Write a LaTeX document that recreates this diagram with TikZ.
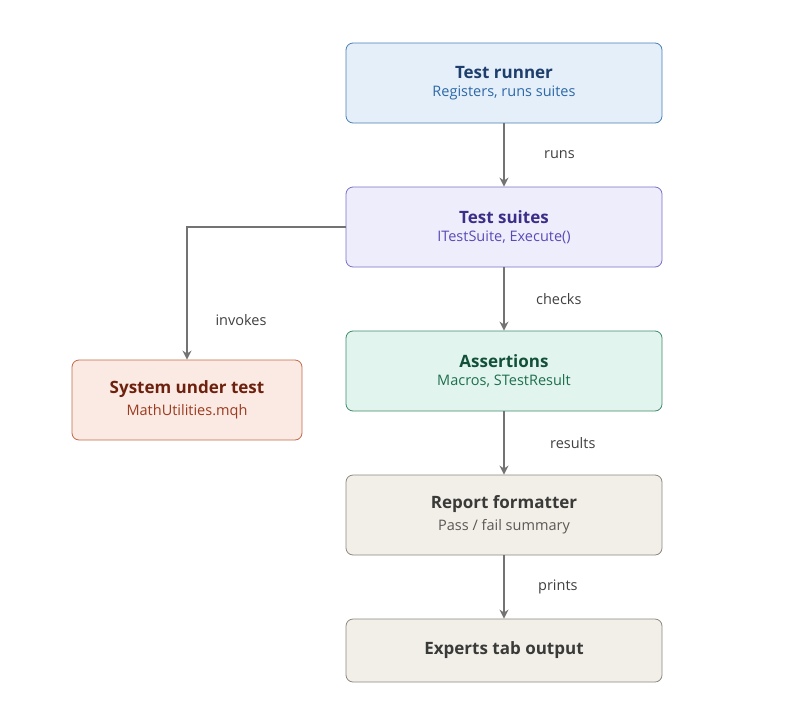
\documentclass[tikz,border=0pt]{standalone}
\usepackage{fontspec}
\setmainfont{Open Sans}
\usetikzlibrary{arrows.meta,positioning}
\definecolor{runfill}{HTML}{E4EFFA}\definecolor{rundraw}{HTML}{4A7FB5}
\definecolor{runtitle}{HTML}{1E3F6C}\definecolor{runsub}{HTML}{2E68A6}
\definecolor{suifill}{HTML}{EEEDFC}\definecolor{suidraw}{HTML}{7A6FC6}
\definecolor{suititle}{HTML}{3A2E88}\definecolor{suisub}{HTML}{5A4AB6}
\definecolor{asfill}{HTML}{E1F4ED}\definecolor{asdraw}{HTML}{3E8B69}
\definecolor{astitle}{HTML}{12503A}\definecolor{assub}{HTML}{1E6F4F}
\definecolor{sysfill}{HTML}{FBEAE3}\definecolor{sysdraw}{HTML}{C2694B}
\definecolor{systitle}{HTML}{6E200E}\definecolor{syssub}{HTML}{9B3B20}
\definecolor{repfill}{HTML}{F2EFE9}\definecolor{repdraw}{HTML}{8C8880}
\definecolor{reptitle}{HTML}{3A3A38}\definecolor{repsub}{HTML}{5A5855}
\newcommand{\boxttl}{\bfseries\fontsize{17}{20}\selectfont}
\newcommand{\boxsub}{\fontsize{14.5}{17}\selectfont}
\tikzset{
  box/.style={draw, rounded corners=7pt, line width=0.8pt, align=center,
    minimum width=316pt, minimum height=80pt, inner sep=0pt},
  flow/.style={draw=black!55, line width=1.6pt, -{Stealth[length=9pt,width=9pt]}},
  lbl/.style={font=\fontsize{14.5}{17}\selectfont, text=black!75, anchor=west}
}
\begin{document}
\begin{tikzpicture}[x=1pt,y=-1pt]
  \useasboundingbox (0,0) rectangle (789,720);
  % Boxes
  \node[box, fill=runfill, draw=rundraw] (runner) at (504,83)
    {{\color{runtitle}\boxttl Test runner}\\[6pt]{\color{runsub}\boxsub Registers, runs suites}};
  \node[box, fill=suifill, draw=suidraw] (suites) at (504,227)
    {{\color{suititle}\boxttl Test suites}\\[6pt]{\color{suisub}\boxsub ITestSuite, Execute()}};
  \node[box, fill=asfill, draw=asdraw] (assert) at (504,371)
    {{\color{astitle}\boxttl Assertions}\\[6pt]{\color{assub}\boxsub Macros, STestResult}};
  \node[box, fill=repfill, draw=repdraw] (report) at (504,515)
    {{\color{reptitle}\boxttl Report formatter}\\[6pt]{\color{repsub}\boxsub Pass / fail summary}};
  \node[box, fill=repfill, draw=repdraw, minimum height=63pt] (experts) at (504,650.5)
    {{\color{reptitle}\boxttl Experts tab output}};
  \node[box, fill=sysfill, draw=sysdraw, minimum width=230pt] (sut) at (187,400)
    {{\color{systitle}\boxttl System under test}\\[6pt]{\color{syssub}\boxsub MathUtilities.mqh}};
  % Connectors
  \draw[flow] (runner) -- node[lbl, xshift=36pt] {runs} (suites);
  \draw[flow] (suites) -- node[lbl, xshift=28pt] {checks} (assert);
  \draw[flow] (assert) -- node[lbl, xshift=42pt] {results} (report);
  \draw[flow] (report) -- node[lbl, xshift=30pt] {prints} (experts);
  \draw[flow] (suites.west) -| (sut.north);
  \node[lbl] (invlbl) at (212,320) {invokes};
\end{tikzpicture}
\end{document}
